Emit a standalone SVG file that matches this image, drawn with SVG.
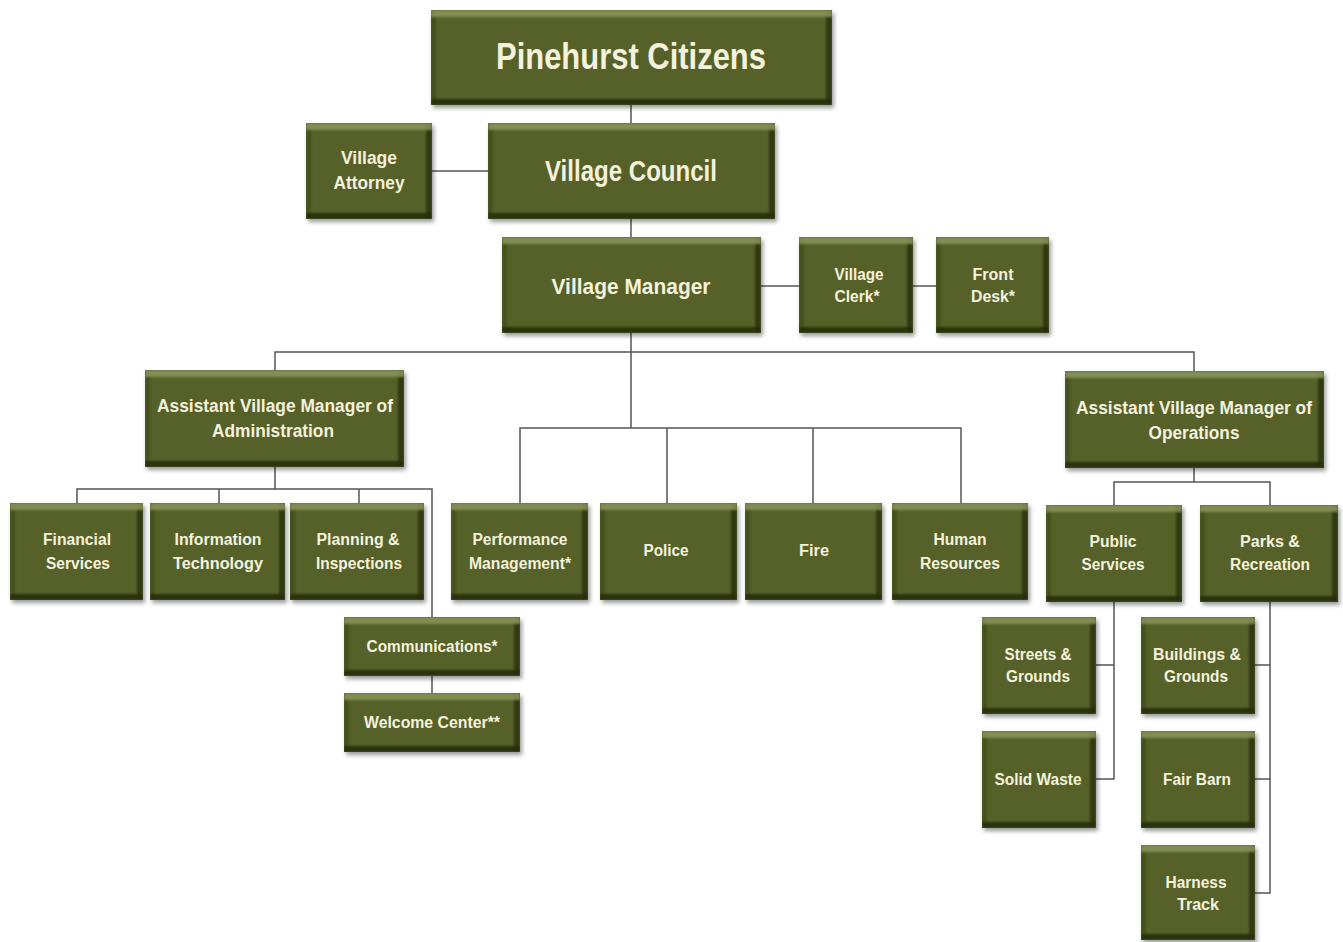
<svg xmlns="http://www.w3.org/2000/svg" width="1343" height="942" viewBox="0 0 1343 942">
<style>
.n{fill:#56612a;filter:url(#bevel)}
.t{font-family:"Liberation Sans",Arial,sans-serif;font-weight:bold;fill:#f4f1dc;text-anchor:middle}
.c{fill:none;stroke:#555;stroke-width:1.5}
</style>
<defs>
<filter id="bevel" x="-0.06" y="-0.1" width="1.16" height="1.3" color-interpolation-filters="sRGB">
<feGaussianBlur in="SourceAlpha" stdDeviation="2" result="sb"/>
<feOffset in="sb" dx="2" dy="3" result="so"/>
<feFlood flood-color="#000" flood-opacity="0.4"/>
<feComposite in2="so" operator="in" result="shadow"/>
<feOffset in="SourceAlpha" dy="7" result="o1"/>
<feComposite in="SourceAlpha" in2="o1" operator="out" result="topA"/>
<feFlood flood-color="#8a955a" flood-opacity="0.85"/>
<feComposite in2="topA" operator="in" result="top"/>
<feOffset in="SourceAlpha" dy="-6" result="o2"/>
<feComposite in="SourceAlpha" in2="o2" operator="out" result="botA"/>
<feFlood flood-color="#262d0b" flood-opacity="0.9"/>
<feComposite in2="botA" operator="in" result="bot"/>
<feOffset in="SourceAlpha" dx="-6" result="o3"/>
<feComposite in="SourceAlpha" in2="o3" operator="out" result="rtA"/>
<feFlood flood-color="#2b320e" flood-opacity="0.85"/>
<feComposite in2="rtA" operator="in" result="rt"/>
<feOffset in="SourceAlpha" dx="5" result="o4"/>
<feComposite in="SourceAlpha" in2="o4" operator="out" result="ltA"/>
<feFlood flood-color="#44501c" flood-opacity="0.9"/>
<feComposite in2="ltA" operator="in" result="lt"/>
<feMerge result="bands"><feMergeNode in="lt"/><feMergeNode in="rt"/><feMergeNode in="bot"/><feMergeNode in="top"/></feMerge>
<feGaussianBlur in="bands" stdDeviation="1.2" result="bb"/>
<feComposite in="bb" in2="SourceAlpha" operator="in" result="bands2"/>
<feMerge><feMergeNode in="shadow"/><feMergeNode in="SourceGraphic"/><feMergeNode in="bands2"/></feMerge>
</filter>
</defs>
<rect width="1343" height="942" fill="#fff"/>
<g id="connectors">
<path class="c" d="M631,105V123M432,171H488M631,219V237M761,286H799M913,286H936"/>
<path class="c" d="M631,333V428M275,370V352H1194V371M520,503V428H961V503M667,428V503M813,428V503"/>
<path class="c" d="M275,467V489M77,503V489H432V617M219,489V503M359,489V503M432,676V693"/>
<path class="c" d="M1194,468V482M1114,505V482H1270V505"/>
<path class="c" d="M1114,602V779H1096M1096,665H1114M1270,602V893H1255M1255,665H1270M1255,779H1270"/>
</g>
<g id="citizens"><rect class="n" x="431" y="10" width="401" height="95"/><text class="t" x="631" y="69" font-size="36" textLength="270" lengthAdjust="spacingAndGlyphs">Pinehurst Citizens</text></g>
<g id="attorney"><rect class="n" x="306" y="123" width="126" height="96"/><text class="t" font-size="18"><tspan x="369" y="164" textLength="56" lengthAdjust="spacingAndGlyphs">Village</tspan><tspan x="369" y="189" textLength="71" lengthAdjust="spacingAndGlyphs">Attorney</tspan></text></g>
<g id="council"><rect class="n" x="488" y="123" width="287" height="96"/><text class="t" x="631" y="181" font-size="29" textLength="172" lengthAdjust="spacingAndGlyphs">Village Council</text></g>
<g id="manager"><rect class="n" x="502" y="237" width="259" height="96"/><text class="t" x="631" y="294" font-size="22" textLength="159" lengthAdjust="spacingAndGlyphs">Village Manager</text></g>
<g id="clerk"><rect class="n" x="799" y="237" width="114" height="96"/><text class="t" font-size="16"><tspan x="859" y="280" textLength="49" lengthAdjust="spacingAndGlyphs">Village</tspan><tspan x="857" y="302" textLength="45" lengthAdjust="spacingAndGlyphs">Clerk*</tspan></text></g>
<g id="frontdesk"><rect class="n" x="936" y="237" width="113" height="96"/><text class="t" font-size="16"><tspan x="993" y="280" textLength="41" lengthAdjust="spacingAndGlyphs">Front</tspan><tspan x="993" y="302" textLength="44" lengthAdjust="spacingAndGlyphs">Desk*</tspan></text></g>
<g id="avm-admin"><rect class="n" x="145" y="370" width="259" height="97"/><text class="t" font-size="18"><tspan x="275" y="412" textLength="236" lengthAdjust="spacingAndGlyphs">Assistant Village Manager of</tspan><tspan x="273" y="437" textLength="122" lengthAdjust="spacingAndGlyphs">Administration</tspan></text></g>
<g id="avm-ops"><rect class="n" x="1065" y="371" width="259" height="97"/><text class="t" font-size="18"><tspan x="1194" y="414" textLength="236" lengthAdjust="spacingAndGlyphs">Assistant Village Manager of</tspan><tspan x="1194" y="439" textLength="91" lengthAdjust="spacingAndGlyphs">Operations</tspan></text></g>
<g id="financial"><rect class="n" x="10" y="503" width="133" height="97"/><text class="t" font-size="16"><tspan x="77" y="545" textLength="68" lengthAdjust="spacingAndGlyphs">Financial</tspan><tspan x="78" y="569" textLength="64" lengthAdjust="spacingAndGlyphs">Services</tspan></text></g>
<g id="it"><rect class="n" x="150" y="503" width="135" height="97"/><text class="t" font-size="16"><tspan x="218" y="545" textLength="87" lengthAdjust="spacingAndGlyphs">Information</tspan><tspan x="218" y="569" textLength="90" lengthAdjust="spacingAndGlyphs">Technology</tspan></text></g>
<g id="planning"><rect class="n" x="290" y="503" width="134" height="97"/><text class="t" font-size="16"><tspan x="358" y="545" textLength="83" lengthAdjust="spacingAndGlyphs">Planning &amp;</tspan><tspan x="359" y="569" textLength="86" lengthAdjust="spacingAndGlyphs">Inspections</tspan></text></g>
<g id="performance"><rect class="n" x="451" y="503" width="137" height="97"/><text class="t" font-size="16"><tspan x="520" y="545" textLength="95" lengthAdjust="spacingAndGlyphs">Performance</tspan><tspan x="520" y="569" textLength="102" lengthAdjust="spacingAndGlyphs">Management*</tspan></text></g>
<g id="police"><rect class="n" x="600" y="503" width="137" height="97"/><text class="t" x="666" y="556" font-size="16" textLength="45" lengthAdjust="spacingAndGlyphs">Police</text></g>
<g id="fire"><rect class="n" x="745" y="503" width="137" height="97"/><text class="t" x="814" y="556" font-size="16" textLength="30" lengthAdjust="spacingAndGlyphs">Fire</text></g>
<g id="hr"><rect class="n" x="892" y="503" width="136" height="97"/><text class="t" font-size="16"><tspan x="960" y="545" textLength="53" lengthAdjust="spacingAndGlyphs">Human</tspan><tspan x="960" y="569" textLength="80" lengthAdjust="spacingAndGlyphs">Resources</tspan></text></g>
<g id="public-services"><rect class="n" x="1046" y="505" width="136" height="97"/><text class="t" font-size="16"><tspan x="1113" y="547" textLength="47" lengthAdjust="spacingAndGlyphs">Public</tspan><tspan x="1113" y="570" textLength="63" lengthAdjust="spacingAndGlyphs">Services</tspan></text></g>
<g id="parks"><rect class="n" x="1200" y="505" width="138" height="97"/><text class="t" font-size="16"><tspan x="1270" y="547" textLength="60" lengthAdjust="spacingAndGlyphs">Parks &amp;</tspan><tspan x="1270" y="570" textLength="80" lengthAdjust="spacingAndGlyphs">Recreation</tspan></text></g>
<g id="communications"><rect class="n" x="344" y="617" width="176" height="59"/><text class="t" x="432" y="652" font-size="16" textLength="131" lengthAdjust="spacingAndGlyphs">Communications*</text></g>
<g id="welcome"><rect class="n" x="344" y="693" width="176" height="59"/><text class="t" x="432" y="728" font-size="16" textLength="136" lengthAdjust="spacingAndGlyphs">Welcome Center**</text></g>
<g id="streets"><rect class="n" x="982" y="617" width="114" height="97"/><text class="t" font-size="16"><tspan x="1038" y="660" textLength="67" lengthAdjust="spacingAndGlyphs">Streets &amp;</tspan><tspan x="1038" y="682" textLength="64" lengthAdjust="spacingAndGlyphs">Grounds</tspan></text></g>
<g id="solid-waste"><rect class="n" x="982" y="731" width="114" height="97"/><text class="t" x="1038" y="785" font-size="16" textLength="87" lengthAdjust="spacingAndGlyphs">Solid Waste</text></g>
<g id="buildings"><rect class="n" x="1141" y="617" width="114" height="97"/><text class="t" font-size="16"><tspan x="1197" y="660" textLength="88" lengthAdjust="spacingAndGlyphs">Buildings &amp;</tspan><tspan x="1196" y="682" textLength="64" lengthAdjust="spacingAndGlyphs">Grounds</tspan></text></g>
<g id="fair-barn"><rect class="n" x="1141" y="731" width="114" height="97"/><text class="t" x="1197" y="785" font-size="16" textLength="68" lengthAdjust="spacingAndGlyphs">Fair Barn</text></g>
<g id="harness"><rect class="n" x="1141" y="845" width="114" height="95"/><text class="t" font-size="16"><tspan x="1196" y="888" textLength="61" lengthAdjust="spacingAndGlyphs">Harness</tspan><tspan x="1198" y="910" textLength="42" lengthAdjust="spacingAndGlyphs">Track</tspan></text></g>
</svg>
